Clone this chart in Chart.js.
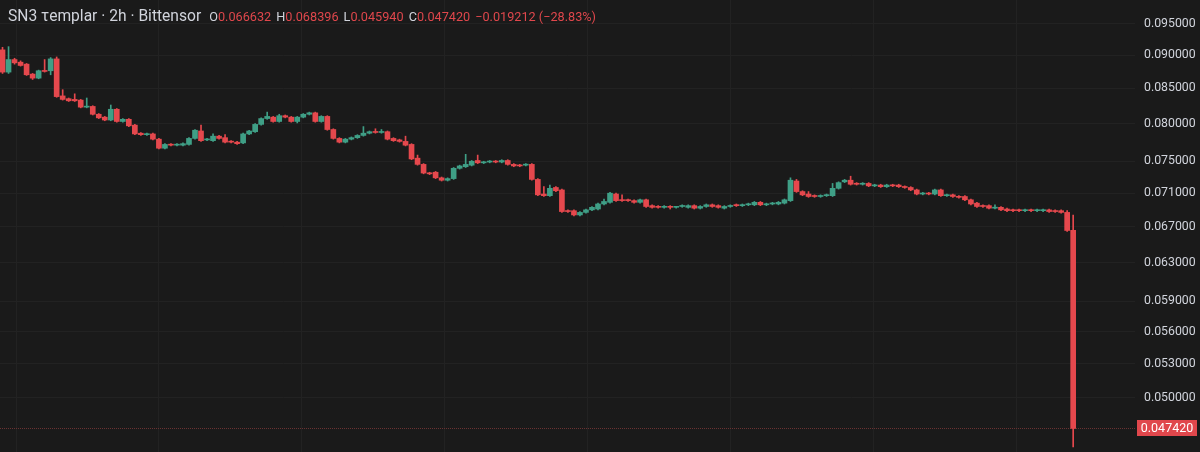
<!DOCTYPE html>
<html>
<head>
<meta charset="utf-8">
<title>SN3 templar 2h</title>
<script src="https://cdn.jsdelivr.net/npm/chart.js@4.4.1/dist/chart.umd.min.js"></script>
<style>
  html, body { margin: 0; padding: 0; background: #1a1a1a; }
  .wrap { position: relative; width: 1200px; height: 452px; overflow: hidden; }
  #chart { position: absolute; left: 0; top: 0; }
  .legend {
    position: absolute; left: 8px; top: 7px;
    font-family: Roboto, "Noto Sans", sans-serif; color: #d1d4dc;
    white-space: nowrap; display: flex; align-items: baseline;
  }
  .title { font-size: 15.6px; }
  .ohlc { font-size: 12.7px; margin-left: 8px; }
  .ohlc .v { color: #e0474c; margin-right: 5px; }
</style>
</head>
<body>
<div class="wrap">
  <canvas id="chart" width="1200" height="452"></canvas>
  <div class="legend">
    <span class="title">SN3 τemplar · 2h · Bittensor</span>
    <span class="ohlc">O<span class="v">0.066632</span>H<span class="v">0.068396</span>L<span class="v">0.045940</span>C<span class="v">0.047420</span><span class="v">−0.019212 (−28.83%)</span></span>
  </div>
</div>
<script>
// 2h candles, oldest first
const opens = [
  0.0908, 0.0874, 0.0893, 0.0889, 0.0886, 0.0871, 0.0865, 0.0876, 0.0876, 0.0894,
  0.0839, 0.0835, 0.0834, 0.0833, 0.0823, 0.0824, 0.0813, 0.0809, 0.0805, 0.0820,
  0.0803, 0.0806, 0.0798, 0.0787, 0.0785, 0.0786, 0.0779, 0.0767, 0.0772, 0.0771,
  0.0771, 0.0772, 0.0780, 0.0790, 0.0778, 0.0777, 0.0783, 0.0781, 0.0776, 0.0775,
  0.0774, 0.0786, 0.0789, 0.0799, 0.0807, 0.0809, 0.0803, 0.0811, 0.0809, 0.0803,
  0.0809, 0.0813, 0.0815, 0.0803, 0.0810, 0.0792, 0.0780, 0.0775, 0.0779, 0.0781,
  0.0784, 0.0787, 0.0789, 0.0788, 0.0789, 0.0780, 0.0778, 0.0776, 0.0772, 0.0754,
  0.0746, 0.0735, 0.0736, 0.0729, 0.0726, 0.0728, 0.0741, 0.0743, 0.0745, 0.0751,
  0.0748, 0.0749, 0.0750, 0.0749, 0.0751, 0.0746, 0.0745, 0.0745, 0.0746, 0.0727,
  0.0709, 0.0707, 0.0717, 0.0714, 0.0689, 0.0689, 0.0684, 0.0687, 0.0690, 0.0691,
  0.0697, 0.0699, 0.0709, 0.0702, 0.0702, 0.0701, 0.0699, 0.0702, 0.0695, 0.0694,
  0.0693, 0.0694, 0.0693, 0.0694, 0.0693, 0.0695, 0.0692, 0.0694, 0.0696, 0.0695,
  0.0692, 0.0694, 0.0696, 0.0695, 0.0696, 0.0696, 0.0699, 0.0696, 0.0697, 0.0697,
  0.0698, 0.0701, 0.0725, 0.0712, 0.0709, 0.0707, 0.0706, 0.0707, 0.0707, 0.0716,
  0.0724, 0.0726, 0.0722, 0.0721, 0.0722, 0.0719, 0.0720, 0.0718, 0.0720, 0.0720,
  0.0718, 0.0717, 0.0714, 0.0709, 0.0710, 0.0709, 0.0714, 0.0707, 0.0708, 0.0706,
  0.0706, 0.0702, 0.0698, 0.0695, 0.0695, 0.0692, 0.0693, 0.0691, 0.0690, 0.0690,
  0.0689, 0.0690, 0.0689, 0.0689, 0.0690, 0.0689, 0.0689, 0.0687, 0.066632
];
const highs = [
  0.0912, 0.0913, 0.0895, 0.0891, 0.0887, 0.0872, 0.0877, 0.0893, 0.0896, 0.0897,
  0.0848, 0.0836, 0.0842, 0.0834, 0.0836, 0.0825, 0.0814, 0.0810, 0.0826, 0.0821,
  0.0807, 0.0807, 0.0799, 0.0788, 0.0787, 0.0787, 0.0780, 0.0773, 0.0773, 0.0773,
  0.0774, 0.0781, 0.0792, 0.0798, 0.0780, 0.0786, 0.0784, 0.0785, 0.0777, 0.0776,
  0.0787, 0.0791, 0.0800, 0.0808, 0.0816, 0.0810, 0.0813, 0.0812, 0.0810, 0.0810,
  0.0814, 0.0816, 0.0816, 0.0811, 0.0811, 0.0793, 0.0781, 0.0780, 0.0782, 0.0785,
  0.0796, 0.0790, 0.0793, 0.0792, 0.0790, 0.0781, 0.0779, 0.0783, 0.0773, 0.0758,
  0.0747, 0.0736, 0.0737, 0.0730, 0.0729, 0.0742, 0.0745, 0.0759, 0.0751, 0.0758,
  0.0750, 0.0751, 0.0751, 0.0752, 0.0752, 0.0747, 0.0746, 0.0747, 0.0747, 0.0728,
  0.0718, 0.0720, 0.0718, 0.0715, 0.0690, 0.0690, 0.0688, 0.0691, 0.0694, 0.0698,
  0.0703, 0.0711, 0.0710, 0.0708, 0.0703, 0.0702, 0.0703, 0.0703, 0.0696, 0.0695,
  0.0695, 0.0695, 0.0694, 0.0696, 0.0696, 0.0696, 0.0695, 0.0697, 0.0697, 0.0696,
  0.0695, 0.0696, 0.0697, 0.0697, 0.0698, 0.0700, 0.0700, 0.0698, 0.0699, 0.0700,
  0.0703, 0.0729, 0.0727, 0.0713, 0.0712, 0.0708, 0.0708, 0.0709, 0.0722, 0.0724,
  0.0727, 0.0731, 0.0723, 0.0723, 0.0723, 0.0721, 0.0721, 0.0721, 0.0721, 0.0721,
  0.0719, 0.0718, 0.0715, 0.0711, 0.0711, 0.0715, 0.0715, 0.0709, 0.0709, 0.0707,
  0.0707, 0.0703, 0.0699, 0.0696, 0.0696, 0.0696, 0.0694, 0.0692, 0.0691, 0.0691,
  0.0691, 0.0691, 0.0691, 0.0691, 0.0691, 0.0690, 0.0690, 0.0689, 0.068396
];
const lows = [
  0.0872, 0.0872, 0.0886, 0.0883, 0.0869, 0.0863, 0.0864, 0.0874, 0.0870, 0.0837,
  0.0833, 0.0831, 0.0831, 0.0822, 0.0822, 0.0812, 0.0807, 0.0804, 0.0804, 0.0802,
  0.0802, 0.0796, 0.0785, 0.0784, 0.0784, 0.0778, 0.0766, 0.0766, 0.0770, 0.0770,
  0.0770, 0.0771, 0.0779, 0.0776, 0.0777, 0.0776, 0.0779, 0.0774, 0.0774, 0.0772,
  0.0773, 0.0785, 0.0788, 0.0798, 0.0806, 0.0802, 0.0802, 0.0808, 0.0802, 0.0801,
  0.0808, 0.0812, 0.0802, 0.0802, 0.0791, 0.0779, 0.0774, 0.0774, 0.0778, 0.0780,
  0.0783, 0.0786, 0.0787, 0.0787, 0.0778, 0.0776, 0.0775, 0.0770, 0.0752, 0.0745,
  0.0734, 0.0733, 0.0728, 0.0725, 0.0725, 0.0727, 0.0740, 0.0742, 0.0744, 0.0747,
  0.0747, 0.0748, 0.0748, 0.0748, 0.0745, 0.0743, 0.0743, 0.0744, 0.0726, 0.0707,
  0.0706, 0.0706, 0.0712, 0.0687, 0.0687, 0.0683, 0.0683, 0.0686, 0.0689, 0.0690,
  0.0696, 0.0698, 0.0700, 0.0700, 0.0700, 0.0698, 0.0698, 0.0693, 0.0692, 0.0692,
  0.0692, 0.0691, 0.0692, 0.0693, 0.0692, 0.0691, 0.0691, 0.0693, 0.0693, 0.0692,
  0.0691, 0.0693, 0.0694, 0.0694, 0.0695, 0.0695, 0.0695, 0.0695, 0.0696, 0.0696,
  0.0697, 0.0700, 0.0711, 0.0707, 0.0705, 0.0705, 0.0705, 0.0706, 0.0706, 0.0715,
  0.0723, 0.0720, 0.0720, 0.0720, 0.0718, 0.0718, 0.0717, 0.0717, 0.0718, 0.0717,
  0.0716, 0.0713, 0.0708, 0.0708, 0.0708, 0.0708, 0.0706, 0.0706, 0.0705, 0.0704,
  0.0701, 0.0696, 0.0693, 0.0693, 0.0691, 0.0691, 0.0689, 0.0688, 0.0688, 0.0688,
  0.0688, 0.0688, 0.0688, 0.0688, 0.0687, 0.0687, 0.0686, 0.0665, 0.045940
];
const closes = [
  0.0874, 0.0893, 0.0888, 0.0884, 0.0870, 0.0865, 0.0876, 0.0875, 0.0894, 0.0838,
  0.0834, 0.0832, 0.0832, 0.0823, 0.0824, 0.0813, 0.0808, 0.0805, 0.0820, 0.0803,
  0.0806, 0.0797, 0.0786, 0.0785, 0.0786, 0.0779, 0.0767, 0.0772, 0.0771, 0.0772,
  0.0773, 0.0780, 0.0791, 0.0777, 0.0779, 0.0783, 0.0780, 0.0775, 0.0775, 0.0773,
  0.0786, 0.0790, 0.0799, 0.0807, 0.0810, 0.0803, 0.0811, 0.0809, 0.0803, 0.0809,
  0.0813, 0.0815, 0.0803, 0.0810, 0.0792, 0.0780, 0.0775, 0.0779, 0.0781, 0.0784,
  0.0787, 0.0789, 0.0788, 0.0789, 0.0779, 0.0777, 0.0776, 0.0771, 0.0753, 0.0746,
  0.0735, 0.0734, 0.0729, 0.0726, 0.0728, 0.0741, 0.0744, 0.0746, 0.0750, 0.0748,
  0.0749, 0.0750, 0.0749, 0.0751, 0.0746, 0.0744, 0.0744, 0.0746, 0.0727, 0.0708,
  0.0707, 0.0716, 0.0713, 0.0688, 0.0688, 0.0684, 0.0687, 0.0690, 0.0693, 0.0697,
  0.0700, 0.0710, 0.0701, 0.0701, 0.0701, 0.0699, 0.0702, 0.0694, 0.0693, 0.0693,
  0.0694, 0.0693, 0.0694, 0.0695, 0.0695, 0.0692, 0.0694, 0.0696, 0.0694, 0.0693,
  0.0694, 0.0695, 0.0695, 0.0696, 0.0697, 0.0699, 0.0696, 0.0697, 0.0698, 0.0699,
  0.0702, 0.0726, 0.0712, 0.0708, 0.0706, 0.0706, 0.0707, 0.0708, 0.0716, 0.0723,
  0.0726, 0.0721, 0.0721, 0.0722, 0.0719, 0.0720, 0.0718, 0.0720, 0.0719, 0.0718,
  0.0717, 0.0714, 0.0709, 0.0710, 0.0709, 0.0714, 0.0707, 0.0708, 0.0706, 0.0705,
  0.0702, 0.0697, 0.0694, 0.0694, 0.0692, 0.0693, 0.0690, 0.0689, 0.0689, 0.0689,
  0.0690, 0.0689, 0.0690, 0.0690, 0.0688, 0.0688, 0.0687, 0.0666, 0.047420
];
// price axis labels
const priceTicks = [0.095, 0.09, 0.085, 0.08, 0.075, 0.071, 0.067, 0.063, 0.059, 0.056, 0.053, 0.05];
// time grid lines, in candle index units
const timeGrid = [2.25, 26, 49.75, 73.5, 97.25, 121, 144.75, 168.5];

const upColor = '#3f9f86';
const downColor = '#e5484d';
const bg = '#1a1a1a';
const gridColor = '#222222';

const idx = opens.map((o, i) => i);
const colors = idx.map(i => closes[i] >= opens[i] ? upColor : downColor);
const lastClose = closes[closes.length - 1];

const lastPrice = {
  id: 'lastPrice',
  beforeDatasetsDraw(chart) {
    const { ctx, chartArea, scales } = chart;
    const y = Math.round(scales.y.getPixelForValue(lastClose)) + 0.5;
    ctx.save();
    ctx.strokeStyle = '#6a3232';
    ctx.lineWidth = 1;
    ctx.setLineDash([1, 1]);
    ctx.beginPath();
    ctx.moveTo(chartArea.left, y);
    ctx.lineTo(chartArea.right, y);
    ctx.stroke();
    ctx.restore();
  },
  afterDraw(chart) {
    const { ctx, chartArea, scales } = chart;
    const y = Math.round(scales.y.getPixelForValue(lastClose));
    ctx.save();
    ctx.fillStyle = '#e0474c';
    ctx.fillRect(chartArea.right + 2, y - 8, 60, 16);
    ctx.fillStyle = '#ffffff';
    ctx.font = '12.5px Roboto, "Noto Sans", sans-serif';
    ctx.textBaseline = 'middle';
    ctx.textAlign = 'center';
    ctx.fillText(lastClose.toFixed(6), chartArea.right + 32, y + 0.5);
    ctx.restore();
  }
};

const bgFill = {
  id: 'bgFill',
  beforeDraw(chart) {
    const { ctx, width, height } = chart;
    ctx.save();
    ctx.fillStyle = bg;
    ctx.fillRect(0, 0, width, height);
    ctx.restore();
  }
};

new Chart(document.getElementById('chart'), {
  type: 'bar',
  data: {
    datasets: [
      {
        label: 'wick',
        data: idx.map(i => ({ x: i, y: [lows[i], highs[i]] })),
        backgroundColor: colors,
        barThickness: 1,
        grouped: false,
        order: 2
      },
      {
        label: 'body',
        data: idx.map(i => ({ x: i, y: [opens[i], closes[i]] })),
        backgroundColor: colors,
        barThickness: 5,
        minBarLength: 1,
        grouped: false,
        order: 1
      }
    ]
  },
  options: {
    responsive: false,
    animation: false,
    layout: { padding: 0 },
    plugins: { legend: { display: false }, tooltip: { enabled: false } },
    scales: {
      x: {
        type: 'linear',
        min: -0.42,
        max: 188.28,
        offset: false,
        ticks: { display: false },
        grid: { color: gridColor, drawTicks: false, offset: false },
        border: { display: false },
        afterBuildTicks: s => { s.ticks = timeGrid.map(v => ({ value: v })); },
        afterFit: s => { s.height = 0; s.paddingLeft = 0; s.paddingRight = 0; }
      },
      y: {
        type: 'logarithmic',
        position: 'right',
        min: 0.04554,
        max: 0.09891,
        ticks: {
          color: '#d1d4dc',
          font: { family: 'Roboto, "Noto Sans", sans-serif', size: 12.3 },
          padding: 9,
          callback: v => Number(v).toFixed(6)
        },
        grid: { color: gridColor, drawTicks: false },
        border: { display: false },
        afterBuildTicks: s => { s.ticks = priceTicks.map(v => ({ value: v })); },
        afterFit: s => { s.width = 65; s.paddingTop = 0; s.paddingBottom = 0; }
      }
    }
  },
  plugins: [bgFill, lastPrice]
});
</script>
</body>
</html>
